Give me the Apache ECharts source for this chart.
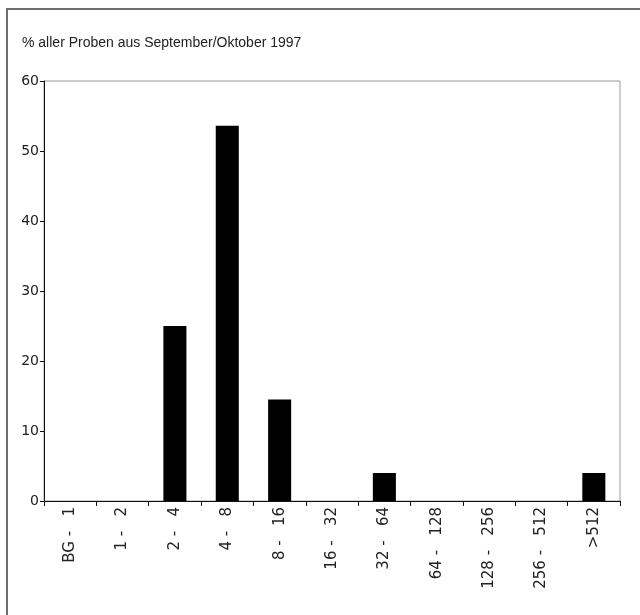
<!DOCTYPE html>
<html>
<head>
<meta charset="utf-8">
<script src="https://cdn.jsdelivr.net/npm/echarts@6/dist/echarts.min.js"></script>
<style>html,body{margin:0;padding:0;background:#fff;}#c{width:640px;height:615px;}</style>
</head>
<body>
<div id="c"></div>
<script>
const titleText = '% aller Proben aus September/Oktober 1997';
const categories = ['BG - 1', '1 - 2', '2 - 4', '4 - 8', '8 - 16', '16 - 32', '32 - 64', '64 - 128', '128 - 256', '256 - 512', '>512'];
const values = [0, 0, 25, 53.6, 14.5, 0, 4, 0, 0, 0, 4];
const yMin = 0, yMax = 60, yStep = 10;

const chart = echarts.init(document.getElementById('c'), null, {renderer: 'canvas'});
const font = 'Liberation Sans, Arial, sans-serif';
const wideFont = 'DejaVu Sans, Verdana, sans-serif';
chart.setOption({
  animation: false,
  backgroundColor: '#fff',
  graphic: [
    {type: 'rect', shape: {x: 7, y: 9, width: 700, height: 700}, style: {fill: 'none', stroke: '#6e6e6e', lineWidth: 2}, z: 0},
    {type: 'text', left: 22, top: 36, style: {text: titleText, font: '14px ' + font, fill: '#222'}}
  ],
  grid: {left: 44, right: 20, top: 81, bottom: 114, show: true, borderColor: '#9a9a9a', borderWidth: 1, backgroundColor: 'transparent'},
  xAxis: {
    type: 'category',
    data: categories,
    axisLine: {lineStyle: {color: '#111', width: 1}},
    axisTick: {show: true, alignWithLabel: false, length: 5, lineStyle: {color: '#111'}},
    axisLabel: {
      rotate: 90, interval: 0, fontFamily: wideFont, fontSize: 15, color: '#222', margin: 6,
      formatter: function (v) { return v.replace(' - ', ' -   '); }
    }
  },
  yAxis: {
    type: 'value', min: yMin, max: yMax, interval: yStep,
    axisLine: {show: true, lineStyle: {color: '#111', width: 1}},
    axisTick: {show: true, length: 4, lineStyle: {color: '#111'}},
    splitLine: {show: false},
    axisLabel: {fontFamily: wideFont, fontSize: 14, color: '#222', margin: 5}
  },
  series: [{
    type: 'bar',
    data: values,
    barWidth: '44%',
    itemStyle: {color: '#000'}
  }]
});
</script>
</body>
</html>
